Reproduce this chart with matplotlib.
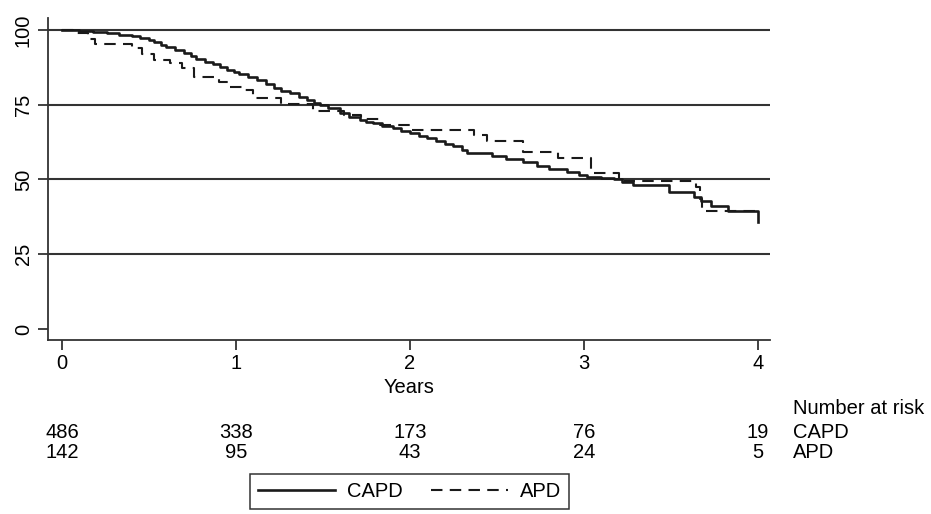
import numpy as np
from matplotlib import pyplot as plt
from matplotlib import transforms

# Kaplan-Meier steps: (time in years, survival %)
capd_t = [0.0, 0.1, 0.18, 0.26, 0.33, 0.40, 0.45, 0.50, 0.53, 0.57, 0.60, 0.65, 0.70,
          0.74, 0.77, 0.82, 0.87, 0.91, 0.95, 0.99, 1.02, 1.07, 1.12, 1.17, 1.22,
          1.26, 1.31, 1.36, 1.41, 1.45, 1.48, 1.53, 1.60, 1.65, 1.71, 1.75, 1.79,
          1.84, 1.90, 1.95, 2.00, 2.05, 2.10, 2.15, 2.20, 2.25, 2.30, 2.33, 2.47,
          2.55, 2.65, 2.73, 2.80, 2.90, 2.97, 3.02, 3.10, 3.17, 3.22, 3.28, 3.49,
          3.63, 3.67, 3.73, 3.83, 4.00]
capd_s = [100.0, 99.6, 99.2, 98.9, 98.4, 97.9, 97.4, 96.6, 95.9, 95.1, 94.4, 93.3, 92.2,
          91.2, 90.3, 89.4, 88.5, 87.5, 86.6, 85.9, 85.2, 84.2, 83.3, 81.9, 80.5,
          79.7, 78.8, 77.7, 76.6, 75.7, 74.9, 73.8, 72.1, 71.0, 69.9, 69.3, 68.8,
          68.0, 67.1, 66.3, 65.5, 64.7, 63.8, 63.0, 62.0, 61.2, 60.0, 58.9, 57.8,
          56.9, 56.0, 54.5, 53.5, 52.6, 51.4, 50.8, 50.4, 50.0, 49.2, 48.2, 45.8,
          44.1, 42.9, 41.2, 39.5, 35.7]

apd_t = [0.0, 0.065, 0.151, 0.19, 0.40, 0.46, 0.53, 0.62, 0.69, 0.76, 0.90, 0.96,
         1.05, 1.10, 1.26, 1.44, 1.62, 1.72, 1.83, 2.00, 2.37, 2.44, 2.65, 2.85,
         3.04, 3.20, 3.645, 3.665, 3.68, 4.00]
apd_s = [100.0, 98.9, 96.9, 95.2, 93.9, 91.9, 90.0, 88.9, 87.2, 84.4, 82.7, 81.0,
         79.9, 77.4, 75.2, 73.0, 71.5, 70.2, 68.2, 66.6, 64.9, 62.9, 59.3, 57.1,
         52.1, 49.6, 47.6, 43.5, 39.5, 39.5]

# Number at risk table
risk_times = [0, 1, 2, 3, 4]
risk_capd = [486, 338, 173, 76, 19]
risk_apd = [142, 95, 43, 24, 5]

ink = '#1a1a1a'
grid_col = '#333333'
plt.rcParams['font.family'] = ['Liberation Sans', 'DejaVu Sans']
plt.rcParams['font.size'] = 14.5

fig = plt.figure(figsize=(9.31, 5.14), dpi=100)
ax = fig.add_axes([0.0516, 0.3385, 0.827 - 0.0516, 0.965 - 0.3385])

for y in [25, 50, 75, 100]:
    ax.axhline(y, color=grid_col, lw=1.5, zorder=1)

l1, = ax.step(capd_t, capd_s, where='post', color=ink, lw=1.9, zorder=3, label='CAPD')
l2, = ax.step(apd_t, apd_s, where='post', color=ink, lw=1.5, dashes=(5.5, 3.5),
              zorder=2, label='APD')

ax.set_xlim(-0.0805, 4.069)
ax.set_ylim(-3.68, 104.0)
ax.set_xticks([0, 1, 2, 3, 4])
ax.set_yticks([0, 25, 50, 75, 100])
for lab in ax.get_yticklabels():
    lab.set_rotation(90)
    lab.set_va('center')
ax.tick_params(axis='both', direction='out', length=7, width=1.3, color=grid_col,
               labelcolor='black', pad=3)
ax.tick_params(axis='y', pad=4)
for side in ['top', 'right']:
    ax.spines[side].set_visible(False)
for side in ['left', 'bottom']:
    ax.spines[side].set_color(grid_col)
    ax.spines[side].set_linewidth(1.3)
ax.set_xlabel('Years', labelpad=4)

# Number at risk rows under the axis
trans = transforms.blended_transform_factory(ax.transData, fig.transFigure)
fig.text(0.852, 0.206, 'Number at risk', ha='left', va='center')
for t, n1, n2 in zip(risk_times, risk_capd, risk_apd):
    ax.text(t, 0.1595, str(n1), transform=trans, ha='center', va='center')
    ax.text(t, 0.1206, str(n2), transform=trans, ha='center', va='center')
fig.text(0.852, 0.1595, 'CAPD', ha='left', va='center')
fig.text(0.852, 0.1206, 'APD', ha='left', va='center')

leg = fig.legend(handles=[l1, l2], loc='center', bbox_to_anchor=(0.44, 0.043), ncol=2,
                 frameon=True, fancybox=False, edgecolor='black', handlelength=3.8,
                 columnspacing=1.4, borderpad=0.4, handletextpad=0.6)
leg.get_frame().set_linewidth(1.1)

fig.savefig('out.png', dpi=100)
